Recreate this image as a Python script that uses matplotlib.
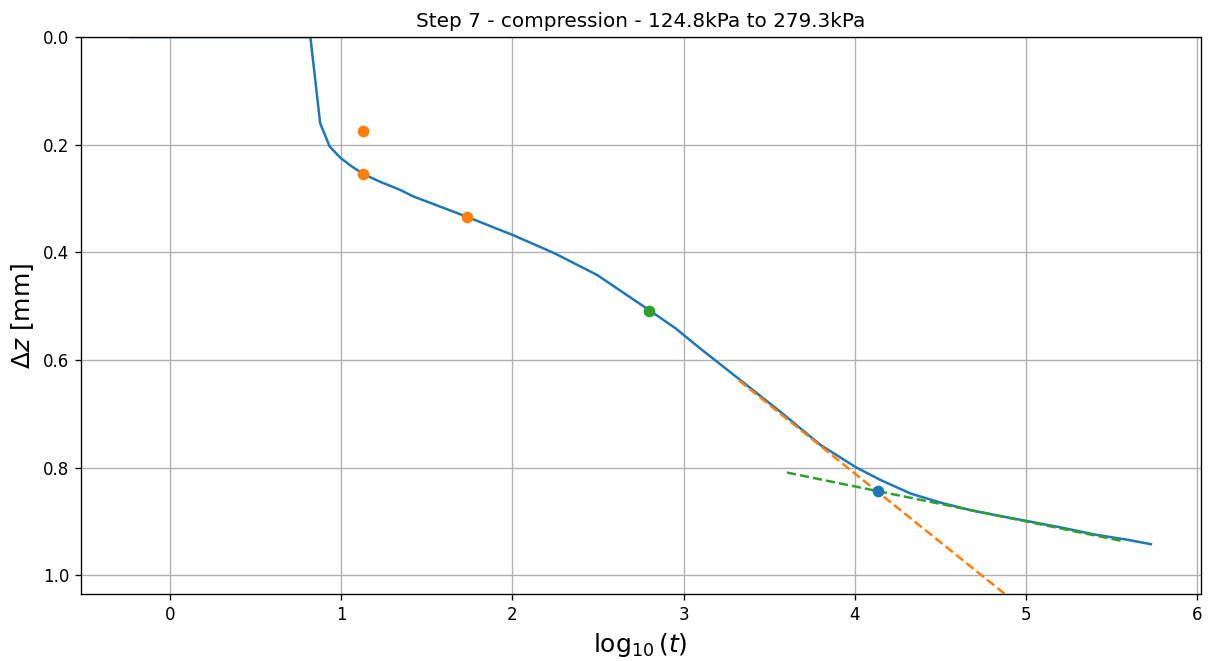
import matplotlib
matplotlib.use("Agg")
import matplotlib.pyplot as plt

# curva de asentamiento (log10 t, dz en mm)
log_t = [-0.23, 0.82, 0.877, 0.932, 0.994, 1.06, 1.13, 1.228, 1.345, 1.42, 1.52, 1.735,
         2.004, 2.242, 2.495, 2.807, 2.953, 3.099, 3.333, 3.567, 3.801, 4.006, 4.152,
         4.327, 4.503, 4.678, 4.854, 5.006, 5.205, 5.40, 5.595, 5.73]
dz = [0.0, 0.0, 0.160, 0.203, 0.224, 0.240, 0.2546, 0.269, 0.284, 0.296, 0.308, 0.334,
      0.368, 0.401, 0.442, 0.509, 0.541, 0.579, 0.6375, 0.6965, 0.758, 0.799, 0.823,
      0.848, 0.865, 0.879, 0.890, 0.899, 0.911, 0.924, 0.934, 0.942]

# puntos de Casagrande
pts_t1_x = [1.130, 1.130, 1.735]
pts_t1_y = [0.175, 0.2546, 0.334]
d50_x, d50_y = 2.80, 0.509
d100_x, d100_y = 4.134, 0.844

# tangentes
tang1_x = [3.324, 5.0]
tang1_y = [0.638, 1.066]
tang2_x = [3.604, 5.56]
tang2_y = [0.809, 0.936]

fig = plt.figure(figsize=(1209 / 120, 661 / 120), dpi=120)
ax = fig.add_axes([0.067, 0.101, 0.926, 0.843])

ax.plot(log_t, dz, color='C0')
ax.plot(pts_t1_x, pts_t1_y, 'o', color='C1')
ax.plot(tang1_x, tang1_y, '--', color='C1')
ax.plot(tang2_x, tang2_y, '--', color='C2')
ax.plot(d50_x, d50_y, 'o', color='C2')
ax.plot(d100_x, d100_y, 'o', color='C0')

ax.set_xlim(-0.52, 6.02)
ax.set_ylim(1.035, 0.0)
ax.set_yticks([0.0, 0.2, 0.4, 0.6, 0.8, 1.0])
ax.set_xlabel(r'$\log_{10}(t)$', fontsize=15)
ax.set_ylabel(r'$\Delta z$ [mm]', fontsize=15)
ax.set_title('Step 7 - compression - 124.8kPa to 279.3kPa')
ax.grid(True)

fig.savefig('out.png', dpi=120)
